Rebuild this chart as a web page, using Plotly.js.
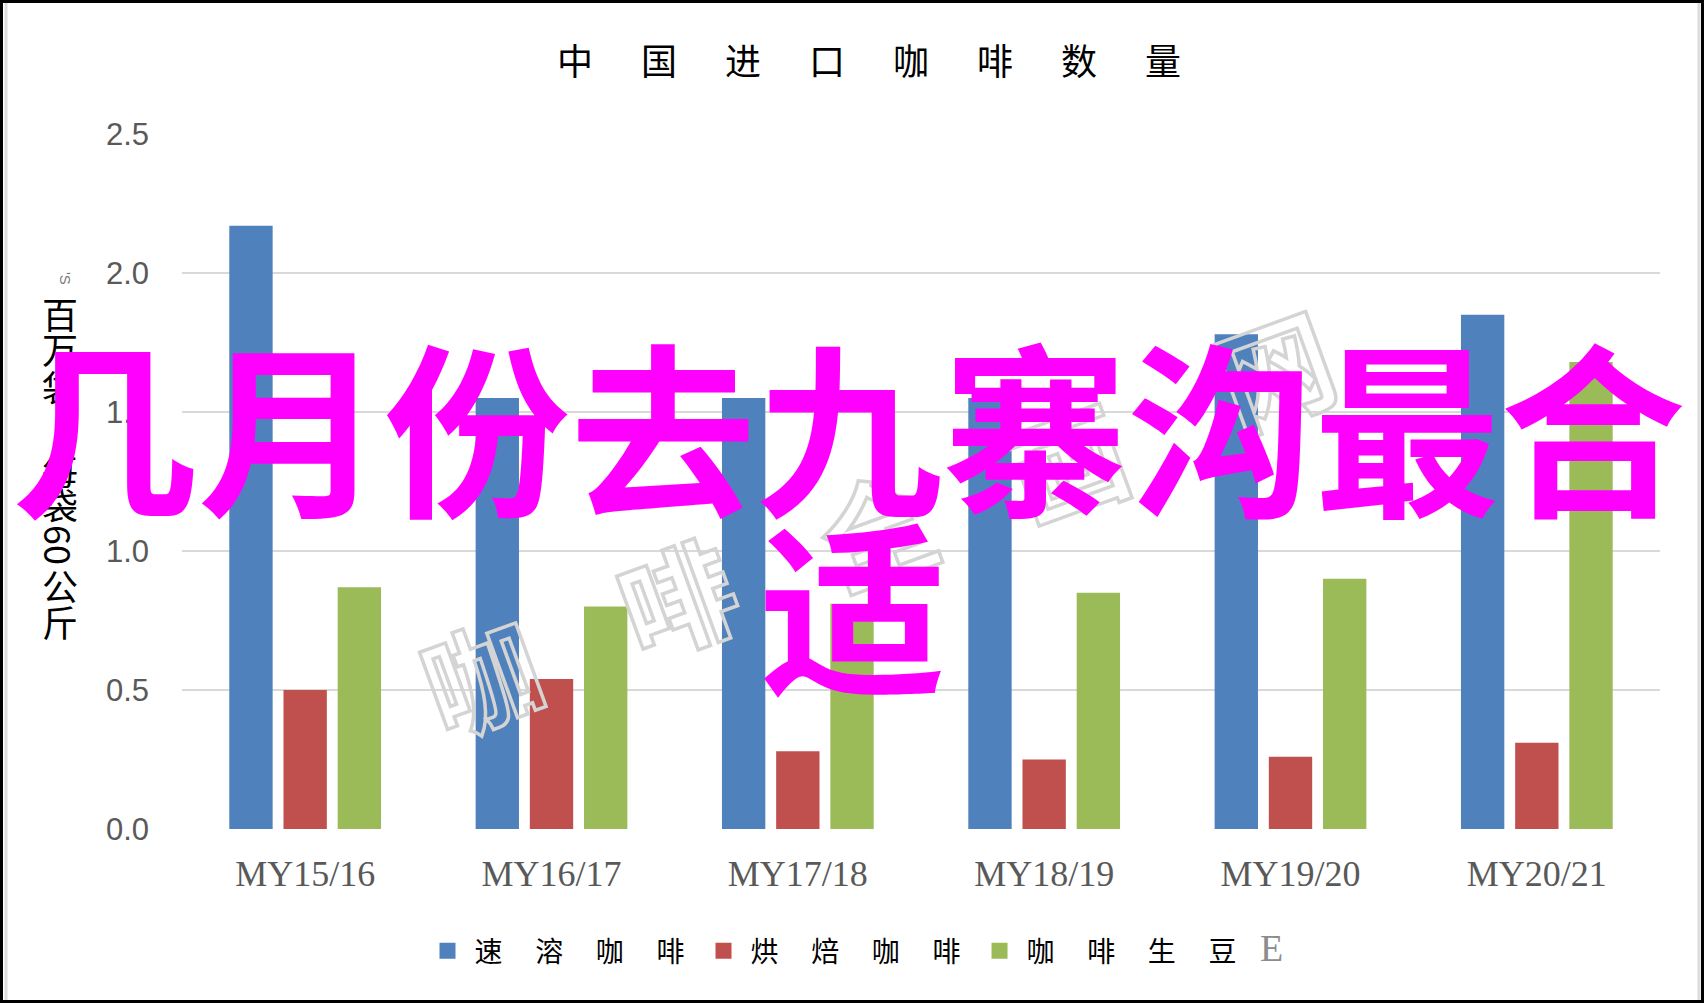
<!DOCTYPE html>
<html>
<head>
<meta charset="utf-8">
<script src="https://cdn.plot.ly/plotly-3.0.1.min.js"></script>
<style>
html,body{margin:0;padding:0;background:#fff;}
#chart{width:1704px;height:1003px;}
</style>
</head>
<body>
<div id="chart"></div>
<script>
// ---- data ----
const categories = ['MY15/16','MY16/17','MY17/18','MY18/19','MY19/20','MY20/21'];
const instantCoffee = [2.17, 1.55, 1.55, 1.55, 1.78, 1.85];
const roastedCoffee = [0.50, 0.54, 0.28, 0.25, 0.26, 0.31];
const greenBeans    = [0.87, 0.80, 0.81, 0.85, 0.90, 1.68];
const seriesNames = ['速溶咖啡', '烘焙咖啡', '咖啡生豆'];
const yTicks = [0, 0.5, 1.0, 1.5, 2.0, 2.5];
const yTickLabels = ['0.0', '0.5', '1.0', '1.5', '2.0', '2.5'];
const chartTitle = '中国进口咖啡数量';
const yTitleChars = ['百', '万', '袋', '每', '袋', '60', '公', '斤'];
const overlayLine1 = '几月份去九寨沟最合';
const overlayLine2 = '适';
const watermarkChars = ['咖', '啡', '全', '画', '网'];

// ---- layout helpers (pixel -> paper) ----
const W = 1704, H = 1003;
const PL = 182, PR = 1660, PT = 134, PB = 829;
const PW = PR - PL, PH = PB - PT;
const fx = px => (px - PL) / PW;
const fy = py => (PB - py) / PH;
const spaced = (s, sep) => Array.from(s).join(sep);

const colors = ['#4f81bd', '#c0504d', '#9bbb59'];
const cjk = 'Noto Sans CJK SC, Noto Sans, sans-serif';

const seriesValues = [instantCoffee, roastedCoffee, greenBeans];
const traces = seriesValues.map((vals, i) => ({
  type: 'bar',
  x: categories,
  y: vals,
  name: '\u2005' + spaced(seriesNames[i], '\u3000\u2006') + '\u2002',
  marker: {color: colors[i]},
  hoverinfo: 'skip'
}));

const annotations = [];

// watermark (hollow grey)
const wmPos = [[480, 672], [676, 594], [877, 525], [1066, 458], [1274, 366]];
watermarkChars.forEach((c, i) => {
  annotations.push({
    xref: 'paper', yref: 'paper', x: fx(wmPos[i][0]), y: fy(wmPos[i][1]),
    xanchor: 'center', yanchor: 'middle', showarrow: false,
    text: c, textangle: -20,
    font: {family: cjk, size: 114, color: '#d9d9d9', weight: 700}
  });
});
const wmCount = watermarkChars.length;

// y-axis title (stacked vertical)
const yTitlePos = [313, 348, 386, 469, 504, 545, 585, 621];
yTitleChars.forEach((c, i) => {
  annotations.push({
    xref: 'paper', yref: 'paper', x: fx(60), y: fy(yTitlePos[i]),
    xanchor: 'center', yanchor: 'middle', showarrow: false,
    text: c, textangle: c.length > 1 ? 90 : 0,
    font: {family: cjk, size: 36, color: '#000000'}
  });
});
annotations.push({
  xref: 'paper', yref: 'paper', x: fx(66), y: fy(278),
  xanchor: 'center', yanchor: 'middle', showarrow: false,
  text: "'S", textangle: 90,
  font: {family: 'Liberation Sans, sans-serif', size: 15, color: '#777777'}
});

// stray E after legend
annotations.push({
  xref: 'paper', yref: 'paper', x: fx(1271), y: fy(948),
  xanchor: 'center', yanchor: 'middle', showarrow: false,
  text: 'E',
  font: {family: 'Liberation Serif, serif', size: 38, color: '#8c8c8c'}
});

// magenta overlay
annotations.push({
  xref: 'paper', yref: 'paper', x: fx(849), y: fy(422),
  xanchor: 'center', yanchor: 'middle', showarrow: false,
  text: overlayLine1,
  font: {family: cjk, size: 186, color: '#ff00ff', weight: 700}
});
annotations.push({
  xref: 'paper', yref: 'paper', x: fx(853), y: fy(601),
  xanchor: 'center', yanchor: 'middle', showarrow: false,
  text: overlayLine2,
  font: {family: cjk, size: 186, color: '#ff00ff', weight: 700}
});

const shapes = [
  {type: 'rect', xref: 'paper', yref: 'paper', x0: fx(1.5), x1: fx(1702.5), y0: fy(1.5), y1: fy(1001.5),
   line: {color: '#000000', width: 3}, fillcolor: 'rgba(0,0,0,0)', layer: 'above'},
  {type: 'line', xref: 'paper', yref: 'paper', x0: fx(6), x1: fx(6), y0: fy(3), y1: fy(1000),
   line: {color: '#dddddd', width: 3}},
  {type: 'line', xref: 'paper', yref: 'paper', x0: fx(1699), x1: fx(1699), y0: fy(3), y1: fy(1000),
   line: {color: '#dddddd', width: 3}}
];

const layout = {
  width: W, height: H,
  margin: {l: PL, r: W - PR, t: PT, b: H - PB},
  paper_bgcolor: '#ffffff', plot_bgcolor: '#ffffff',
  showlegend: true,
  title: {
    text: spaced(chartTitle, '\u3000\u2004'),
    x: 869 / W, xref: 'container', xanchor: 'center',
    y: 1 - 62 / H, yref: 'container', yanchor: 'middle',
    font: {family: cjk, size: 36, color: '#000000'}
  },
  barmode: 'group', bargap: 0.34, bargroupgap: 0.2,
  xaxis: {
    type: 'category',
    showgrid: false, zeroline: false, showline: false, ticks: '',
    ticklabelstandoff: 20,
    tickfont: {family: 'Liberation Serif, serif', size: 36, color: '#595959'}
  },
  yaxis: {
    range: [0, 2.5], tickvals: yTicks, ticktext: yTickLabels,
    showgrid: true, gridcolor: '#d9d9d9', gridwidth: 2.5,
    zeroline: false, showline: false, ticks: '',
    ticklabelstandoff: 32,
    tickfont: {family: 'Liberation Sans, sans-serif', size: 31, color: '#595959'}
  },
  legend: {
    orientation: 'h',
    xref: 'container', yref: 'container',
    x: 842 / W, xanchor: 'center',
    y: 1 - 951 / H, yanchor: 'middle',
    font: {family: cjk, size: 28, color: '#000000'},
    itemclick: false, itemdoubleclick: false
  },
  annotations: annotations,
  shapes: shapes
};

Plotly.newPlot('chart', traces, layout, {staticPlot: true, displayModeBar: false}).then(() => {
  for (let i = 0; i < wmCount; i++) {
    const t = document.querySelector('.annotation[data-index="' + i + '"] text');
    if (t) {
      t.style.fill = 'none';
      t.style.stroke = '#d4d4d4';
      t.style.strokeWidth = '3.5px';
    }
  }
  document.querySelectorAll('.legend .legendpoints path').forEach(p => {
    p.setAttribute('d', 'M8,8H-8V-8H8Z');
  });
});
</script>
</body>
</html>
